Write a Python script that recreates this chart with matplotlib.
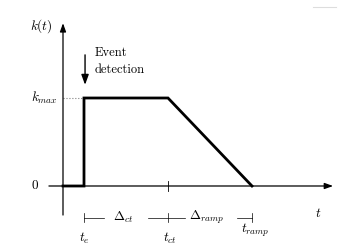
import matplotlib.pyplot as plt

plt.rcParams["mathtext.fontset"] = "cm"

# trace of k(t); event times in units of the time axis
trace_t = [0, 1, 1, 5, 9]
trace_k = [0, 0, 1, 1, 0]
t_e, t_ct, t_ramp = 1, 5, 9
k_max = 1
time_labels = [r"$t_e$", r"$t_{ct}$", r"$t_{ramp}$"]
delta_labels = [r"$\Delta_{ct}$", r"$\Delta_{ramp}$"]

fig = plt.figure(figsize=(3.5, 2.45), dpi=100)
ax = fig.add_axes([0, 0, 1, 1])
ax.set_xlim(-3, 13.667)
ax.set_ylim(-0.6705, 2.1136)
ax.axis("off")

fs = 9.5
arrow_kw = dict(arrowstyle="-|>,head_length=0.5,head_width=0.18", color="black", lw=0.9,
                shrinkA=0, shrinkB=0)

# axes with arrows
ax.annotate("", xy=(0, 1.85), xytext=(0, -0.33), arrowprops=arrow_kw)
ax.annotate("", xy=(12.86, 0), xytext=(-0.67, 0), arrowprops=arrow_kw)

# k(t) trace
ax.plot(trace_t, trace_k, color="black", lw=2.0, solid_joinstyle="miter", zorder=3)
ax.plot([0, t_e], [k_max, k_max], color="gray", lw=0.8, ls=":")

# axis labels
ax.text(-0.5, 1.82, r"$k(t)$", ha="right", va="center", fontsize=fs)
ax.text(-0.27, k_max, r"$k_{max}$", ha="right", va="center", fontsize=fs)
ax.text(-1.14, 0, "$0$", ha="right", va="center", fontsize=fs)
ax.text(12.14, -0.31, "$t$", ha="center", va="center", fontsize=fs)

# event detection arrow
ax.annotate("", xy=(1.05, 1.15), xytext=(1.05, 1.49),
            arrowprops=dict(arrowstyle="-|>,head_length=0.6,head_width=0.22",
                            color="black", lw=1.0, shrinkA=0, shrinkB=0))
ax.text(1.52, 1.415, "Event\ndetection", ha="left", va="center", fontsize=9,
        family="cmr10", linespacing=1.5)

# tick at t_ct on the time axis
ax.plot([t_ct, t_ct], [-0.06, 0.06], color="black", lw=0.6)

# duration brackets
yb = -0.36
for tx in (t_e, t_ct, t_ramp):
    ax.plot([tx, tx], [yb - 0.05, yb + 0.05], color="black", lw=0.5)
for a, b in [(t_e, 1.95), (4.05, 5.81), (8.29, t_ramp)]:
    ax.plot([a, b], [yb, yb], color="black", lw=0.5)
ax.text(2.86, yb, delta_labels[0], ha="center", va="center", fontsize=fs)
ax.text(6.85, yb, delta_labels[1], ha="center", va="center", fontsize=fs)

# time labels
ax.text(t_e, -0.59, time_labels[0], ha="center", va="center", fontsize=fs)
ax.text(t_ct + 0.1, -0.59, time_labels[1], ha="center", va="center", fontsize=fs)
ax.text(t_ramp + 0.15, -0.5, time_labels[2], ha="center", va="center", fontsize=fs)

# faint stray line at the top right
ax.plot([11.9, 13.0], [2.034, 2.034], color="#dddddd", lw=0.8)

fig.savefig("out.png", dpi=100)
